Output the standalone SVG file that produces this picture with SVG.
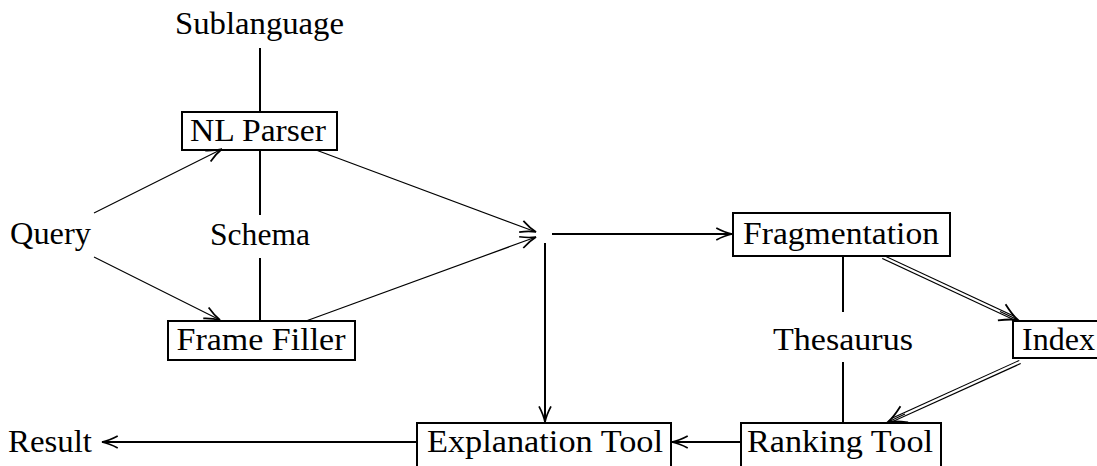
<svg xmlns="http://www.w3.org/2000/svg" width="1097" height="466" viewBox="0 0 1097 466">
<style>
.t{font-family:'Liberation Serif','Times New Roman',serif;font-size:31px;fill:#000}
.box{fill:none;stroke:#000;stroke-width:2}
.ln{fill:none;stroke:#000;stroke-width:2}
.sl{fill:none;stroke:#000;stroke-width:1.2}
.dbl{fill:none;stroke:#000;stroke-width:4.6}
.dblw{fill:none;stroke:#fff;stroke-width:2.2}
</style>
<defs>
<marker id="ah" markerUnits="userSpaceOnUse" markerWidth="20" markerHeight="20" refX="0" refY="0" viewBox="-12 -6 14 12" orient="auto">
<path d="M-11,-4.2 Q-5,-1 0,0 Q-5,1 -11,4.2" fill="none" stroke="#000" stroke-width="1.2"/>
</marker>
<marker id="ah2" markerUnits="userSpaceOnUse" markerWidth="24" markerHeight="24" refX="0" refY="0" viewBox="-14 -8 16 16" orient="auto">
<path d="M-12,-6 Q-5,-1.5 0,0 Q-5,1.5 -12,6" fill="none" stroke="#000" stroke-width="1.2"/>
</marker>
</defs>
<g id="connectors">
<line class="ln" x1="260" y1="48" x2="260" y2="112"/>
<line class="ln" x1="260" y1="150" x2="260" y2="215"/>
<line class="ln" x1="260" y1="258" x2="260" y2="321"/>
<line class="sl" x1="94" y1="213" x2="222" y2="149" marker-end="url(#ah)"/>
<line class="sl" x1="94" y1="257" x2="220" y2="320" marker-end="url(#ah)"/>
<line class="sl" x1="316" y1="150" x2="536" y2="232" marker-end="url(#ah)"/>
<line class="sl" x1="306" y1="321" x2="536" y2="237" marker-end="url(#ah)"/>
<line class="ln" x1="545" y1="243" x2="545" y2="422" marker-end="url(#ah)"/>
<line class="ln" x1="552" y1="234" x2="732" y2="234" marker-end="url(#ah)"/>
<line class="ln" x1="843" y1="256" x2="843" y2="312"/>
<line class="ln" x1="843" y1="362" x2="843" y2="423"/>
<line class="ln" x1="741" y1="442" x2="672" y2="442" marker-end="url(#ah)"/>
<line class="ln" x1="417" y1="442" x2="102" y2="442" marker-end="url(#ah)"/>
<line class="dbl" x1="883" y1="257" x2="1014" y2="318"/>
<line class="dblw" x1="881" y1="256" x2="1015" y2="318.5"/>
<line class="sl" x1="1000" y1="311.5" x2="1018" y2="320" marker-end="url(#ah2)"/>
<line class="dbl" x1="1020" y1="362" x2="892" y2="420"/>
<line class="dblw" x1="1022" y1="361" x2="891" y2="420.5"/>
<line class="sl" x1="905" y1="414" x2="888" y2="422" marker-end="url(#ah2)"/>
</g>
<g id="sublanguage"><text class="t" x="259.5" y="34" text-anchor="middle" textLength="169" lengthAdjust="spacingAndGlyphs">Sublanguage</text></g>
<g id="nlparser"><rect class="box" x="182" y="112" width="155" height="38"/><text class="t" x="258" y="141" text-anchor="middle" textLength="136" lengthAdjust="spacingAndGlyphs">NL Parser</text></g>
<g id="query"><text class="t" x="10" y="244" textLength="81" lengthAdjust="spacingAndGlyphs">Query</text></g>
<g id="schema"><text class="t" x="260" y="245" text-anchor="middle" textLength="100" lengthAdjust="spacingAndGlyphs">Schema</text></g>
<g id="framefiller"><rect class="box" x="168" y="321" width="187" height="39"/><text class="t" x="261" y="350" text-anchor="middle" textLength="169" lengthAdjust="spacingAndGlyphs">Frame Filler</text></g>
<g id="fragmentation"><rect class="box" x="733" y="213" width="217" height="43"/><text class="t" x="841" y="244" text-anchor="middle" textLength="196" lengthAdjust="spacingAndGlyphs">Fragmentation</text></g>
<g id="thesaurus"><text class="t" x="843" y="350" text-anchor="middle" textLength="140" lengthAdjust="spacingAndGlyphs">Thesaurus</text></g>
<g id="index"><rect class="box" x="1013" y="321" width="120" height="37"/><text class="t" x="1022" y="350" textLength="73" lengthAdjust="spacingAndGlyphs">Index</text></g>
<g id="ranking"><rect class="box" x="741" y="423" width="200" height="80"/><text class="t" x="840" y="452" text-anchor="middle" textLength="186" lengthAdjust="spacingAndGlyphs">Ranking Tool</text></g>
<g id="explanation"><rect class="box" x="417" y="423" width="254" height="80"/><text class="t" x="545" y="452" text-anchor="middle" textLength="236" lengthAdjust="spacingAndGlyphs">Explanation Tool</text></g>
<g id="result"><text class="t" x="8" y="452" textLength="84" lengthAdjust="spacingAndGlyphs">Result</text></g>
</svg>
